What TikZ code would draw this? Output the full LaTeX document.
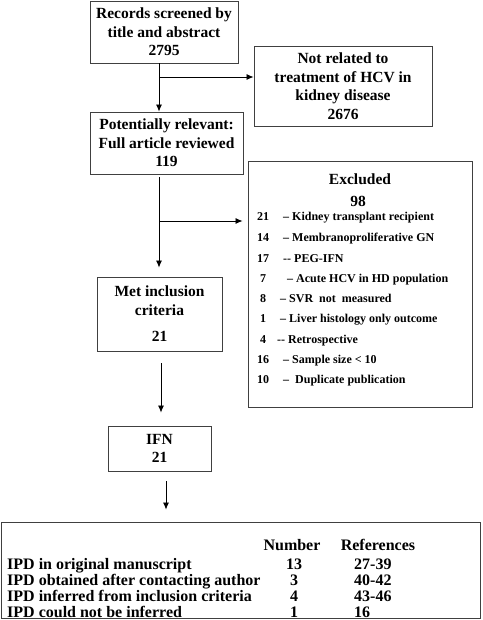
\documentclass[tikz,border=0pt]{standalone}
\usepackage{fontspec}
\setmainfont{Liberation Serif}
\usetikzlibrary{arrows.meta}
\begin{document}
\begin{tikzpicture}[x=1pt,y=-1pt,
  box/.style={draw=black!75,line width=0.9pt,rectangle,inner sep=0pt,align=center,font=\bfseries\fontsize{15.5}{18.5}\selectfont},
  arr/.style={draw=black,line width=0.8pt,-{Latex[length=7pt,width=6pt]}},
  item/.style={anchor=base west,inner sep=0pt,font=\bfseries\fontsize{12}{13}\selectfont},
  row/.style={anchor=base west,inner sep=0pt,font=\bfseries\fontsize{16}{16}\selectfont},
  rowc/.style={anchor=base,inner sep=0pt,font=\bfseries\fontsize{16}{16}\selectfont}]
\useasboundingbox (0,0) rectangle (482,620);
% boxes
\node[box,minimum width=148pt,minimum height=62pt] (b1) at (164,32) {Records screened by\\title and abstract\\2795};
\node[box,minimum width=178pt,minimum height=80pt] (nr) at (343,86) {Not related to\\treatment of HCV in\\kidney disease\\2676};
\node[box,minimum width=153pt,minimum height=62pt] (b2) at (166.5,143) {Potentially relevant:\\Full article reviewed\\119};
\node[box,minimum width=224pt,minimum height=246pt] (ex) at (360,284) {};
\node[box,minimum width=125pt,minimum height=74pt] (mi) at (159.5,314) {Met inclusion\\criteria\\[8pt]21};
\node[box,minimum width=103pt,minimum height=45pt] (ifn) at (159.5,448.5) {IFN\\21};
\node[box,minimum width=479pt,minimum height=96pt] (tb) at (240.5,570) {};
% excluded contents
\node[anchor=base,inner sep=0pt,font=\bfseries\fontsize{15.5}{18}\selectfont] (exh) at (360,185) {Excluded};
\node[anchor=base,inner sep=0pt,font=\bfseries\fontsize{15.5}{18}\selectfont] (exn) at (358,207) {98};
\foreach \n/\nx/\t/\tx/\y [count=\i] in {
  21/257/{– Kidney transplant recipient}/283/221,
  14/257/{– Membranoproliferative GN}/283/241,
  17/257/{-{}- PEG-IFN}/283/262,
  7/260/{– Acute HCV in HD population}/287/282,
  8/260/{– SVR\ \ not\ \ measured}/280/302,
  1/260/{– Liver histology only outcome}/280/322,
  4/260/{-{}- Retrospective}/277/343,
  16/257/{– Sample size < 10}/283/363,
  10/257/{–\ \ Duplicate publication}/283/383}{
  \node[item] (en\i) at (\nx,\y) {\n};
  \node[item] (et\i) at (\tx,\y) {\t};
}
% table contents
\node[rowc] (hn) at (292,550) {Number};
\node[rowc] (hr) at (378,550) {References};
\foreach \a/\b/\c/\y [count=\i] in {
  IPD in original manuscript/13/27-39/569,
  IPD obtained after contacting author/3/40-42/585,
  IPD inferred from inclusion criteria/4/43-46/601,
  IPD could not be inferred/1/16/617}{
  \node[row] (ra\i) at (7,\y) {\a};
  \node[rowc] (rb\i) at (294,\y) {\b};
  \node[row] (rc\i) at (354,\y) {\c};
}
% connectors
\coordinate (c1) at (159,77);
\coordinate (c2) at (159,221);
\draw[arr] (b1.south -| c1) -- (b2.north -| c1);
\draw[arr] (c1) -- (nr.west |- c1);
\draw[arr,shorten <=3pt,shorten >=9pt] (b2.south -| c2) -- (mi.north -| c2);
\draw[arr,shorten >=5pt] (c2) -- (ex.west |- c2);
\coordinate (c3) at (161,0);
\coordinate (c4) at (166,0);
\draw[arr,shorten <=12pt,shorten >=13pt] (mi.south -| c3) -- (ifn.north -| c3);
\draw[arr,shorten <=10pt,shorten >=12pt] (ifn.south -| c4) -- (tb.north -| c4);
\end{tikzpicture}
\end{document}
